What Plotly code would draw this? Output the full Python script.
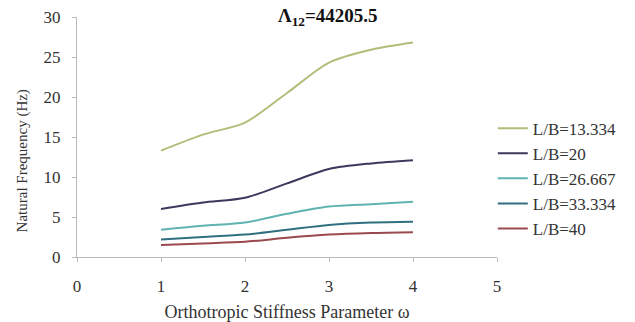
import plotly.graph_objects as go

omega = [1, 1.5, 2, 2.5, 3, 3.5, 4]
series_names = ["L/B=13.334", "L/B=20", "L/B=26.667", "L/B=33.334", "L/B=40"]
lb_13334 = [13.3, 15.3, 16.8, 20.5, 24.3, 25.9, 26.8]
lb_20 = [6.0, 6.8, 7.4, 9.2, 11.0, 11.7, 12.1]
lb_26667 = [3.4, 3.9, 4.3, 5.4, 6.3, 6.6, 6.9]
lb_33334 = [2.2, 2.5, 2.8, 3.4, 4.0, 4.3, 4.4]
lb_40 = [1.5, 1.7, 1.9, 2.4, 2.8, 3.0, 3.1]
series_values = [lb_13334, lb_20, lb_26667, lb_33334, lb_40]
colors = ["#B5BC7A", "#3B3A5E", "#5FB3B3", "#2F6F80", "#9A4A4E"]

x_ticks = [0, 1, 2, 3, 4, 5]
y_ticks = [0, 5, 10, 15, 20, 25, 30]

font_family = "'Liberation Serif', 'Times New Roman', serif"
text_color = "#333333"

fig = go.Figure()
for name, vals, c in zip(series_names, series_values, colors):
    fig.add_trace(go.Scatter(
        x=omega, y=vals, mode="lines", name=name, legendgroup=name,
        line=dict(color=c, width=2, shape="spline", smoothing=0.8),
    ))

fig.update_layout(
    width=635, height=322,
    margin=dict(l=77, r=138, t=17, b=65, autoexpand=False),
    paper_bgcolor="white", plot_bgcolor="white",
    font=dict(family=font_family, size=16, color=text_color),
    showlegend=True,
    legend=dict(
        x=0.99, xanchor="left", y=0.61, yanchor="top",
        font=dict(family=font_family, size=17, color=text_color),
        bgcolor="rgba(0,0,0,0)", tracegroupgap=0, itemwidth=30,
    ),
    annotations=[
        dict(
            text="<b>Λ<sub>12</sub>=44205.5</b>",
            x=(328 - 77) / 420, xref="paper", y=1.06, yref="paper",
            xanchor="center", yanchor="top", showarrow=False,
            font=dict(family=font_family, size=19, color="#111111"),
        ),
        dict(
            text="Natural Frequency (Hz)",
            x=-0.13, xref="paper", y=0.40, yref="paper",
            xanchor="center", yanchor="middle", showarrow=False, textangle=-90,
            font=dict(family=font_family, size=15, color=text_color),
        ),
    ],
)
fig.update_xaxes(
    range=[0, 5], tickvals=x_ticks, ticktext=[str(t) for t in x_ticks],
    showgrid=False, zeroline=False, showline=True, linecolor="#BBBBBB", linewidth=1,
    ticks="outside", ticklen=4, tickcolor="#BBBBBB", ticklabelstandoff=10,
    tickfont=dict(family=font_family, size=17, color=text_color), automargin=False,
    title=dict(text="Orthotropic Stiffness Parameter ω", font=dict(family=font_family, size=18, color=text_color), standoff=10),
)
fig.update_yaxes(
    range=[0, 30], tickvals=y_ticks, ticktext=[str(t) for t in y_ticks],
    showgrid=False, zeroline=False, showline=True, linecolor="#BBBBBB", linewidth=1,
    ticks="outside", ticklen=4, tickcolor="#BBBBBB", ticklabelstandoff=8,
    tickfont=dict(family=font_family, size=17, color=text_color), automargin=False,
)

fig.write_html("out.html")
